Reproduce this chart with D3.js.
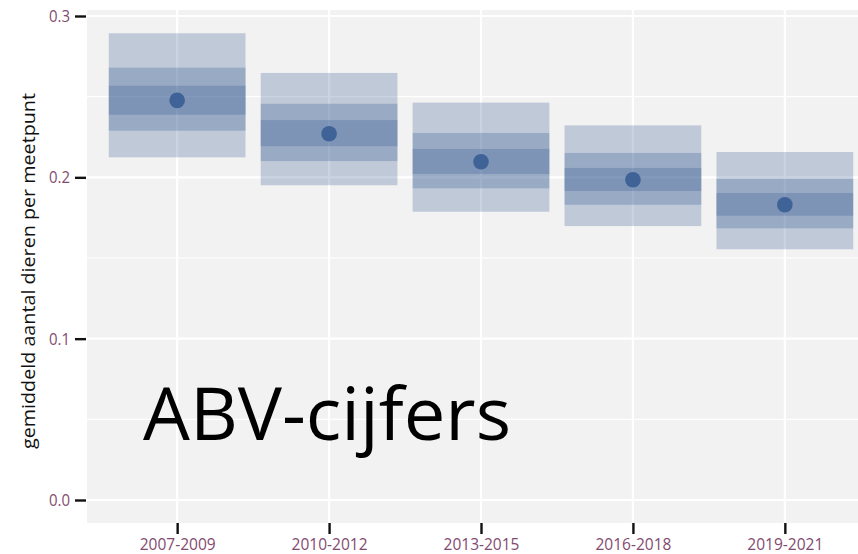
<!DOCTYPE html>
<html>
<head>
<meta charset="utf-8">
<script src="https://cdn.jsdelivr.net/npm/d3@7"></script>
<style>
  html, body { margin: 0; padding: 0; background: #ffffff; }
  svg { display: block; }
</style>
</head>
<body>
<svg id="chart" width="858" height="554"></svg>
<script>
// Periods and estimated mean counts per sampling point, with nested intervals
const periods = ["2007-2009", "2010-2012", "2013-2015", "2016-2018", "2019-2021"];
const meanValue = [0.2477, 0.2270, 0.2097, 0.1985, 0.1830];
const outerLow  = [0.2124, 0.1951, 0.1787, 0.1698, 0.1554];
const outerHigh = [0.2893, 0.2647, 0.2463, 0.2322, 0.2157];
const midLow    = [0.2289, 0.2101, 0.1932, 0.1830, 0.1684];
const midHigh   = [0.2680, 0.2456, 0.2275, 0.2151, 0.1990];
const innerLow  = [0.2388, 0.2193, 0.2021, 0.1915, 0.1762];
const innerHigh = [0.2568, 0.2355, 0.2176, 0.2058, 0.1903];
const yTicks = [0.0, 0.1, 0.2, 0.3];
const yMinor = [0.05, 0.15, 0.25];

const svg = d3.select("#chart");
const panel = { left: 87, top: 10, right: 876, bottom: 523 };

const x = d3.scalePoint().domain(periods).range([86, 876]).padding(0.6);
const y = d3.scaleLinear().domain([0, 0.3]).range([500, 16]);
const boxW = x.step() * 0.9;

const baseColor = "#3f6297";
const tickColor = "#834a6f";

// clip to the panel area
svg.append("defs").append("clipPath").attr("id", "panelClip")
  .append("rect")
  .attr("x", panel.left).attr("y", panel.top)
  .attr("width", panel.right - panel.left).attr("height", panel.bottom - panel.top);

const g = svg.append("g").attr("clip-path", "url(#panelClip)");

g.append("rect")
  .attr("x", panel.left).attr("y", panel.top)
  .attr("width", panel.right - panel.left).attr("height", panel.bottom - panel.top)
  .attr("fill", "#f2f2f2");

// minor and major grid
g.selectAll(".minor").data(yMinor).join("line")
  .attr("x1", panel.left).attr("x2", panel.right)
  .attr("y1", d => y(d)).attr("y2", d => y(d))
  .attr("stroke", "#ffffff").attr("stroke-width", 1.1);
g.selectAll(".major").data(yTicks).join("line")
  .attr("x1", panel.left).attr("x2", panel.right)
  .attr("y1", d => y(d)).attr("y2", d => y(d))
  .attr("stroke", "#ffffff").attr("stroke-width", 2.2);
g.selectAll(".vgrid").data(periods).join("line")
  .attr("x1", d => x(d)).attr("x2", d => x(d))
  .attr("y1", panel.top).attr("y2", panel.bottom)
  .attr("stroke", "#ffffff").attr("stroke-width", 2.2);

// interval boxes, stacked translucent layers
const layers = [
  { lo: outerLow, hi: outerHigh, a: 0.28 },
  { lo: midLow,   hi: midHigh,   a: 0.30 },
  { lo: innerLow, hi: innerHigh, a: 0.30 }
];
layers.forEach(L => {
  g.append("g").selectAll("rect").data(periods).join("rect")
    .attr("x", d => x(d) - boxW / 2)
    .attr("width", boxW)
    .attr("y", (d, i) => y(L.hi[i]))
    .attr("height", (d, i) => y(L.lo[i]) - y(L.hi[i]))
    .attr("fill", baseColor)
    .attr("fill-opacity", L.a);
});

// point estimates
g.append("g").selectAll("circle").data(periods).join("circle")
  .attr("cx", d => x(d))
  .attr("cy", (d, i) => y(meanValue[i]))
  .attr("r", 7.8)
  .attr("fill", baseColor);

// axes
const yAxis = svg.append("g").attr("transform", `translate(${panel.left - 1},0)`)
  .call(d3.axisLeft(y).tickValues(yTicks).tickFormat(d3.format(".1f")).tickSize(11).tickPadding(5));
const xAxis = svg.append("g").attr("transform", `translate(0,${panel.bottom})`)
  .call(d3.axisBottom(x).tickSize(11).tickPadding(4));
[yAxis, xAxis].forEach(a => {
  a.select(".domain").remove();
  a.selectAll(".tick line").attr("stroke", "#111").attr("stroke-width", 2.4);
  a.selectAll(".tick text")
    .attr("fill", tickColor)
    .style("font-family", "'Open Sans', sans-serif")
    .style("font-size", "17px");
});
xAxis.selectAll(".tick text").attr("textLength", 76).attr("lengthAdjust", "spacingAndGlyphs");
yAxis.selectAll(".tick text").attr("textLength", 21).attr("lengthAdjust", "spacingAndGlyphs");

// y axis title
svg.append("text")
  .attr("transform", "translate(35,271) rotate(-90)")
  .attr("text-anchor", "middle")
  .style("font-family", "'Open Sans', sans-serif")
  .style("font-size", "19px")
  .attr("fill", "#111")
  .attr("textLength", 356).attr("lengthAdjust", "spacingAndGlyphs")
  .text("gemiddeld aantal dieren per meetpunt");

// overlay caption
svg.append("text")
  .attr("x", 143).attr("y", 440)
  .style("font-family", "'Open Sans', sans-serif")
  .style("font-size", "74px")
  .attr("fill", "#000")
  .attr("textLength", 368).attr("lengthAdjust", "spacingAndGlyphs")
  .text("ABV-cijfers");
</script>
</body>
</html>
